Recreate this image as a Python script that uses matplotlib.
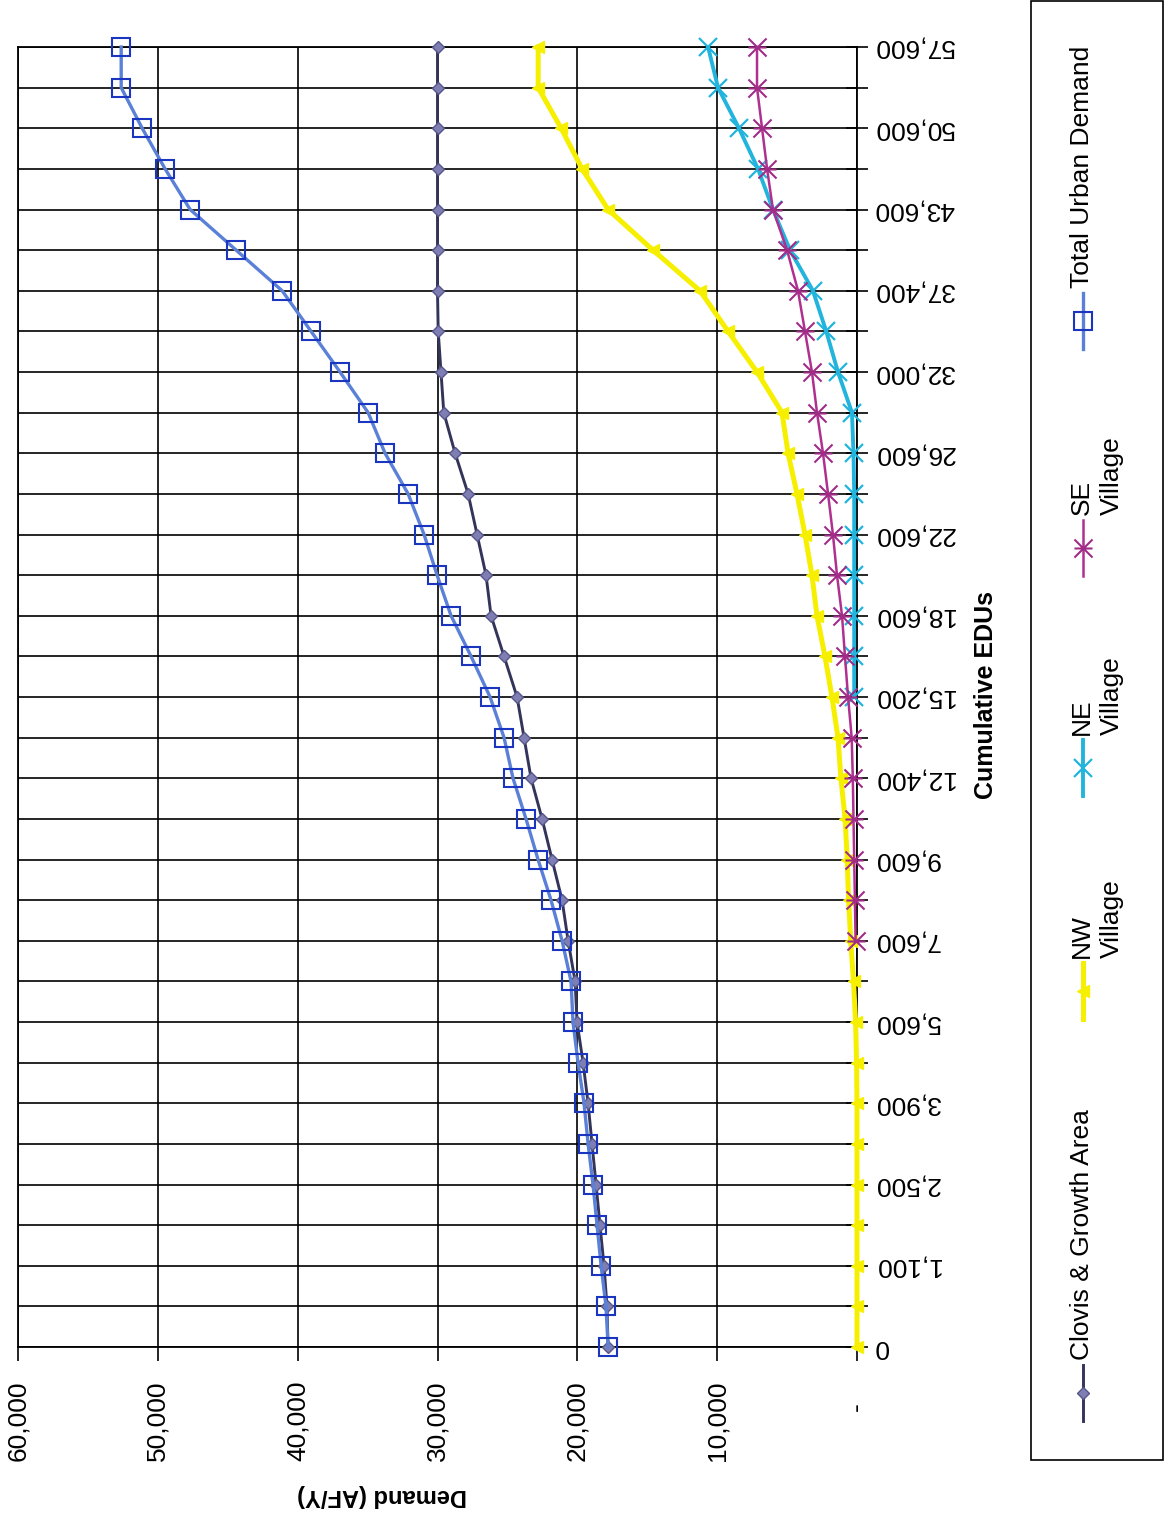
import matplotlib.pyplot as plt
import numpy as np
from matplotlib.path import Path
from matplotlib.patches import Rectangle
from matplotlib.transforms import ScaledTranslation

plt.rcParams["font.family"] = ["Liberation Sans", "DejaVu Sans"]

# Cumulative EDUs categories (only every other one is labelled in the source)
EDU_LABELS = [
    "0", "", "1,100", "", "2,500", "", "3,900", "", "5,600", "", "7,600", "",
    "9,600", "", "12,400", "", "15,200", "", "18,600", "", "22,600", "",
    "26,600", "", "32,000", "", "37,400", "", "43,600", "", "50,600", "", "57,600",
]

# Demand (AF/Y) per category
clovis = [
    17800, 17880, 18090, 18380, 18660, 18950, 19230, 19590, 20020, 20160,
    20660, 21090, 21810, 22520, 23310, 23810, 24310, 25240, 26170, 26530,
    27170, 27810, 28740, 29550, 29750, 29950, 30000, 30000, 30000, 30000,
    30000, 30000, 30000,
]
nw_village = [
    0, 0, 0, 0, 0, 0, 0, 30, 100, 250,
    450, 600, 700, 850, 1150, 1360, 1790, 2290, 2860, 3220,
    3720, 4290, 4930, 5360, 7150, 9220, 11230, 14590, 17800, 19660,
    21160, 22800, 22800,
]
ne_village = [
    np.nan, np.nan, np.nan, np.nan, np.nan, np.nan, np.nan, np.nan, np.nan, np.nan,
    np.nan, np.nan, np.nan, np.nan, np.nan, np.nan, 200, 200, 200, 200,
    200, 200, 250, 360, 1360, 2200, 3150, 4790, 6010, 7080,
    8440, 9940, 10650,
]
se_village = [
    np.nan, np.nan, np.nan, np.nan, np.nan, np.nan, np.nan, np.nan, np.nan, np.nan,
    100, 150, 200, 250, 300, 380, 640, 860, 1070, 1430,
    1720, 2070, 2430, 2860, 3220, 3720, 4220, 5000, 6010, 6430,
    6790, 7150, 7150,
]
total_urban = [
    17800, 17950, 18300, 18590, 18880, 19230, 19520, 19950, 20310, 20450,
    21090, 21880, 22810, 23670, 24600, 25240, 26240, 27600, 29030, 30030,
    30960, 32100, 33750, 34960, 36970, 39040, 41110, 44400, 47690, 49480,
    51120, 52620, 52620,
]

DEMAND_TICKS = [0, 10000, 20000, 30000, 40000, 50000, 60000]
DEMAND_LABELS = ["-", "10,000", "20,000", "30,000", "40,000", "50,000", "60,000"]

W, H = 1169, 1516

# asterisk marker: X plus a bar (rotated Excel star)
star = Path(
    [(-1, -1), (1, 1), (-1, 1), (1, -1), (-1, 0), (1, 0)],
    [Path.MOVETO, Path.LINETO] * 3,
)

series = [
    ("Clovis & Growth Area", clovis,
     dict(color="#34345a", lw=2.1, marker="D", ms=6, mfc="#7e7eb2", mec="#56568a")),
    ("NW\nVillage", nw_village,
     dict(color="#f6f000", lw=3.6, marker="<", ms=8, mfc="#f6f000", mec="#f6f000")),
    ("NE\nVillage", ne_village,
     dict(color="#22b4dc", lw=2.8, marker="x", ms=13, mew=1.6, mec="#22b4dc")),
    ("SE\nVillage", se_village,
     dict(color="#b03090", lw=1.8, marker=star, ms=13, mew=1.5, mec="#a02c88")),
    ("Total Urban Demand", total_urban,
     dict(color="#5a80d8", lw=2.4, marker="s", ms=13, mfc="none", mew=1.5, mec="#1a36c0")),
]

fig = plt.figure(figsize=(W / 100, H / 100), dpi=100)
fig.patch.set_facecolor("white")

# plot area in pixels: left 18, right 857, top 47, bottom 1347
ax = fig.add_axes([18 / W, 1 - 1347 / H, 839 / W, 1300 / H])
idx = np.arange(len(EDU_LABELS))

for name, vals, style in series:
    ax.plot(vals, idx, clip_on=False, zorder=3, **style)

ax.set_xlim(60000, 0)
ax.set_ylim(0, len(EDU_LABELS) - 1)

ax.set_xticks(DEMAND_TICKS)
ax.set_xticklabels(DEMAND_LABELS, rotation=90, fontsize=19, va="top", ha="center")
ax.tick_params(axis="x", direction="out", length=10, width=1.2, pad=14, color="black")
# the "-" zero label sits further from the axis in the source
zero_lbl = ax.get_xticklabels()[0]
zero_lbl.set_transform(zero_lbl.get_transform() + ScaledTranslation(0, -22 / 100, fig.dpi_scale_trans))

ax.yaxis.tick_right()
ax.set_yticks(idx)
ax.set_yticklabels(EDU_LABELS, rotation=180, fontsize=19, va="center", ha="left")
ax.tick_params(axis="y", direction="inout", length=16, width=1.2, pad=4, color="black")

ax.grid(True, color="black", linewidth=1.2, zorder=1)
ax.set_axisbelow(True)
for spine in ax.spines.values():
    spine.set_edgecolor("black")
    spine.set_linewidth(1.3)

fig.text(986 / W, 1 - 695 / H, "Cumulative EDUs", rotation=90, fontsize=18,
         fontweight="bold", ha="center", va="center")
fig.text(382 / W, 1 - 1495 / H, "Demand (AF/Y)", rotation=180, fontsize=17,
         fontweight="bold", ha="center", va="center")

# legend drawn in pixel coordinates
lax = fig.add_axes([0, 0, 1, 1])
lax.set_xlim(0, W)
lax.set_ylim(H, 0)
lax.axis("off")
lax.add_patch(Rectangle((1031, 1), 132, 1459, fill=False, edgecolor="black", lw=1.2))

legend_pos = [1365, 963, 740, 520, 293]  # top of each key line
for (name, vals, style), top in zip(series, legend_pos):
    line_style = {k: v for k, v in style.items() if k in ("color", "lw")}
    lax.plot([1083, 1083], [top, top + 56], **line_style)
    lax.plot([1083], [top + 28], linestyle="none",
             **{k: v for k, v in style.items() if k not in ("color", "lw")})
    lax.text(1070, top - 5, name, rotation=90, fontsize=19, ha="left", va="bottom",
             multialignment="left", linespacing=1.3)

fig.savefig("out.png", dpi=100, facecolor="white")
